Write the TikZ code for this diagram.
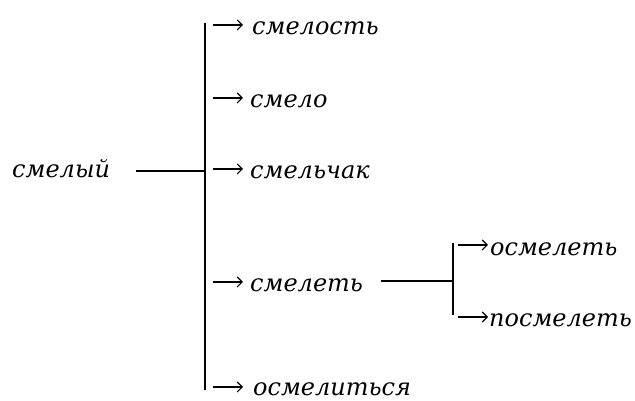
\documentclass[tikz,border=0pt]{standalone}
\usepackage{fontspec}
\setmainfont{DejaVu Serif}
\usetikzlibrary{arrows.meta}
\begin{document}
\begin{tikzpicture}[x=1pt,y=1pt,
  word/.style={inner sep=0pt,anchor=base west,font=\itshape\fontsize{24}{25}\selectfont},
  bar/.style={line width=1.6pt},
  arr/.style={line width=1.1pt,-{Straight Barb[length=5pt,width=10pt,line width=1.1pt]}}]
\useasboundingbox (0,0) rectangle (635,401);
% words
\node[word] (w0) at (12,223) {смелый};
\node[word] (t1) at (252,366) {смелость};
\node[word] (t2) at (250,293) {смело};
\node[word] (t3) at (250,222) {смельчак};
\node[word] (t4) at (250,109) {смелеть};
\node[word] (t5) at (253,5) {осмелиться};
\node[word] (t6) at (490,145) {осмелеть};
\node[word] (t7) at (489,74) {посмелеть};
% main bar
\coordinate (btop) at (205,378);
\coordinate (bbot) at (205,11);
\coordinate (bj) at (205,230);
\draw[bar] (btop) -- (bbot);
\draw[bar,shorten <=26pt] (w0.east |- bj) -- (bj);
% arrows from main bar
\coordinate (a1) at (213,376);
\coordinate (a2) at (213,303);
\coordinate (a3) at (213,232);
\coordinate (a4) at (213,119);
\coordinate (a5) at (213,14);
\draw[arr,shorten >=9pt] (a1) -- (a1 -| t1.west);
\draw[arr,shorten >=7pt] (a2) -- (a2 -| t2.west);
\draw[arr,shorten >=7pt] (a3) -- (a3 -| t3.west);
\draw[arr,shorten >=7pt] (a4) -- (a4 -| t4.west);
\draw[arr,shorten >=10pt] (a5) -- (a5 -| t5.west);
% second bar
\coordinate (ctop) at (453,158);
\coordinate (cbot) at (453,86);
\coordinate (cj) at (453,120);
\draw[bar] (ctop) -- (cbot);
\draw[bar,shorten <=18pt] (t4.east |- cj) -- (cj);
\coordinate (a6) at (458,156);
\coordinate (a7) at (458,84);
\draw[arr,shorten >=2pt] (a6) -- (a6 -| t6.west);
\draw[arr,shorten >=1pt] (a7) -- (a7 -| t7.west);
\end{tikzpicture}
\end{document}
